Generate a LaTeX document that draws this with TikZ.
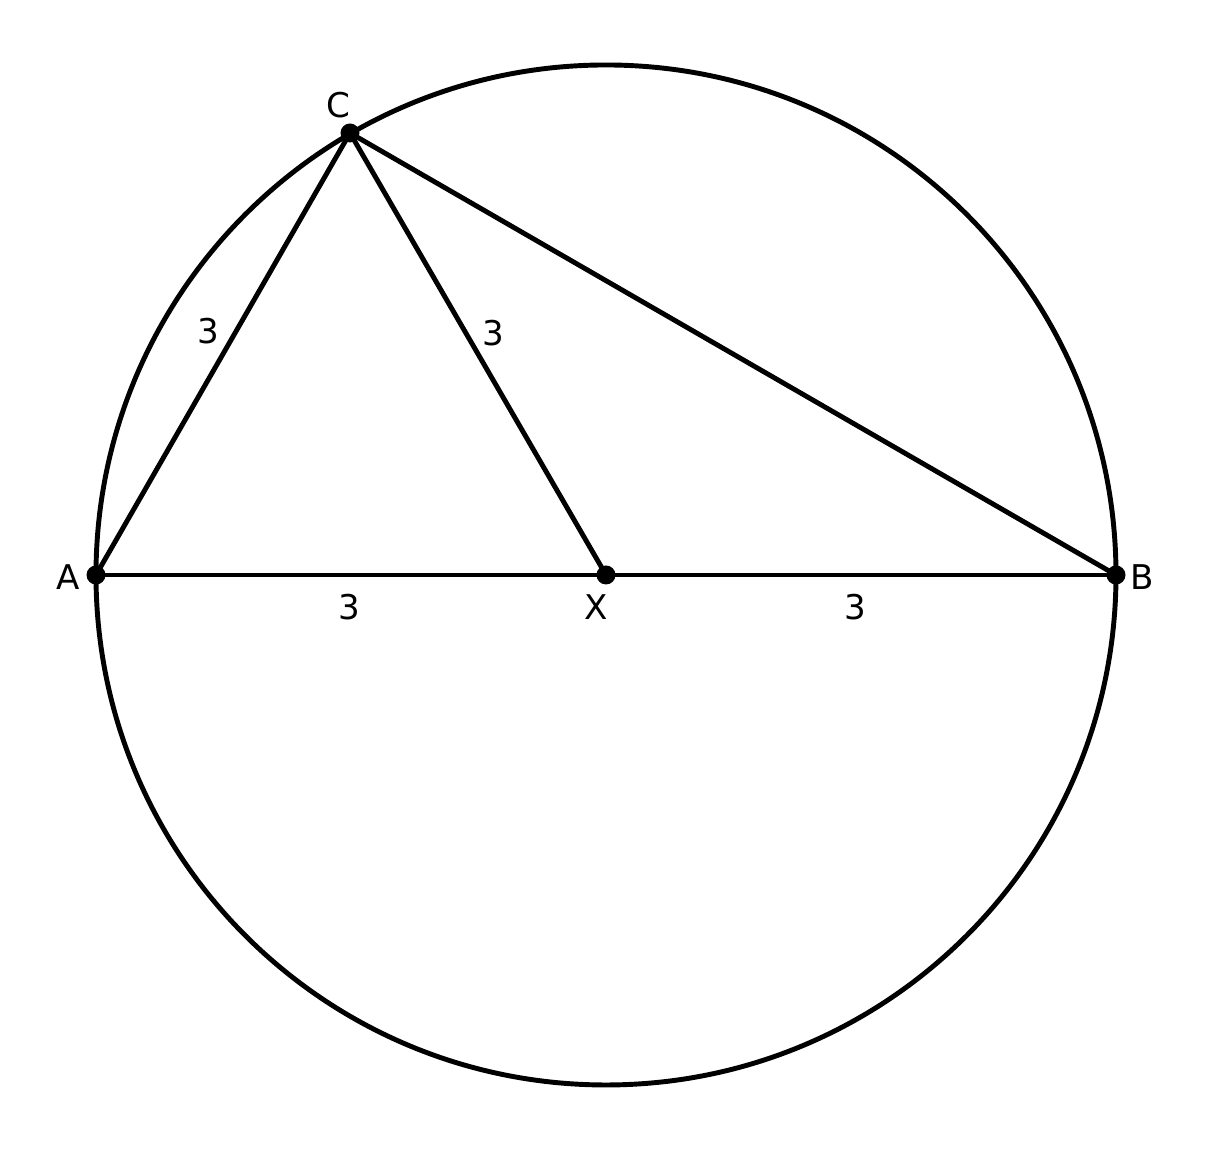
\documentclass[tikz,border=0pt]{standalone}
\usepackage{fontspec}
\setmainfont{DejaVu Sans}
\usetikzlibrary{positioning}

\begin{document}
\begin{tikzpicture}[
  x=1cm, y=1cm,
  seg/.style={line width=1.4pt},
  ptdot/.style={circle, fill=black, inner sep=0pt, minimum size=0.19cm},
  lbl/.style={font=\fontsize{9.7}{12}\selectfont, inner sep=0pt}
]
  \useasboundingbox (0,0) rectangle (12.06,11.5);

  % Points
  \node[ptdot] (X) at (6.06,5.75) {};
  \node[ptdot] (A) at (0.96,5.75) {};
  \node[ptdot] (B) at (11.16,5.75) {};
  \node[ptdot] (C) at (3.50,10.17) {};

  % Circle and segments
  \draw[seg] (X.center) circle (5.1);
  \draw[seg] (A.center) -- (C.center) -- (B.center);
  \draw[seg] (A.center) -- (B.center);
  \draw[seg] (C.center) -- (X.center);

  % Labels
  \node[lbl] (labC) at (3.38,10.45) {C};
  \node[lbl] (labA) at (0.68,5.73) {A};
  \node[lbl] (labB) at (11.42,5.73) {B};
  \node[lbl] (labX) at (5.96,5.43) {X};
  \node[lbl] (lenAC) at (2.08,8.19) {3};
  \node[lbl] (lenCX) at (4.93,8.17) {3};
  \node[lbl] (lenAX) at (3.49,5.43) {3};
  \node[lbl] (lenXB) at (8.55,5.43) {3};
\end{tikzpicture}
\end{document}
